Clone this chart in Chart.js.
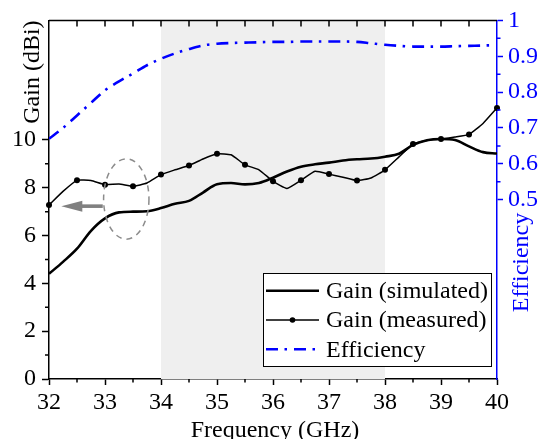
<!DOCTYPE html>
<html>
<head>
<meta charset="utf-8">
<script src="https://cdn.jsdelivr.net/npm/chart.js@4.4.1/dist/chart.umd.min.js"></script>
<style>
  html, body { margin: 0; padding: 0; background: #fff; }
  #wrap { width: 545px; height: 439px; }
</style>
</head>
<body>
<div id="wrap"><canvas id="gainChart"></canvas></div>
<script>
// frequency points (GHz), 0.25 GHz step
const freqs = [32, 32.25, 32.5, 32.75, 33, 33.25, 33.5, 33.75, 34, 34.25, 34.5, 34.75,
    35, 35.25, 35.5, 35.75, 36, 36.25, 36.5, 36.75, 37, 37.25, 37.5, 37.75,
    38, 38.25, 38.5, 38.75, 39, 39.25, 39.5, 39.75, 40];

const gainSimulated = [4.4, 4.9, 5.45, 6.2, 6.72, 6.97, 7.0, 7.02, 7.15, 7.33, 7.45, 7.8,
    8.15, 8.2, 8.14, 8.2, 8.42, 8.68, 8.88, 8.98, 9.05, 9.14, 9.19, 9.22,
    9.3, 9.42, 9.79, 9.99, 10.04, 10.0, 9.73, 9.49, 9.43];

const gainMeasured = [7.28, 7.85, 8.31, 8.3, 8.13, 8.16, 8.06, 8.2, 8.55, 8.75, 8.93, 9.2,
    9.42, 9.38, 8.96, 8.75, 8.27, 7.97, 8.31, 8.69, 8.57, 8.44, 8.3, 8.41,
    8.75, 9.29, 9.83, 9.98, 10.04, 10.12, 10.23, 10.69, 11.34];

const efficiency = [0.67, 0.70, 0.735, 0.77, 0.805, 0.83, 0.852, 0.875, 0.893, 0.908, 0.92, 0.93,
    0.935, 0.937, 0.938, 0.939, 0.94, 0.94, 0.941, 0.941, 0.941, 0.941, 0.94, 0.936,
    0.932, 0.929, 0.927, 0.927, 0.927, 0.928, 0.929, 0.93, 0.931];

const freqTicks = [32, 33, 34, 35, 36, 37, 38, 39, 40];
const gainTicks = [0, 2, 4, 6, 8, 10];
const effTicks = [0.5, 0.6, 0.7, 0.8, 0.9, 1];

const band = [34, 38];           // shaded band (GHz)
const circleMark = { x: 33.38, y: 7.53, rx: 0.405, ry: 1.68 };  // dashed ellipse, data units
const arrowMark = { from: 32.96, to: 32.22, y: 7.23 };         // arrow pointing to left axis

const FONT = "Liberation Serif";
const BLUE = "#0000ff";

const toXY = (vals) => vals.map((v, i) => ({ x: freqs[i], y: v }));

const decor = {
    id: "decor",
    beforeDatasetsDraw(chart) {
        const { ctx, chartArea: a, scales: { x } } = chart;
        ctx.save();
        ctx.fillStyle = "#efefef";
        const x0 = x.getPixelForValue(band[0]);
        const x1 = x.getPixelForValue(band[1]);
        ctx.fillRect(x0, a.top + 1, x1 - x0, a.bottom - a.top - 1);
        ctx.restore();
    },
    afterDatasetsDraw(chart) {
        const { ctx, chartArea: a, scales: { x, y, y1 } } = chart;
        ctx.save();

        // dashed ellipse
        const cx = x.getPixelForValue(circleMark.x);
        const cy = y.getPixelForValue(circleMark.y);
        const rx = x.getPixelForValue(circleMark.x + circleMark.rx) - cx;
        const ry = cy - y.getPixelForValue(circleMark.y + circleMark.ry);
        ctx.strokeStyle = "#8c8c8c";
        ctx.lineWidth = 1.5;
        ctx.setLineDash([6, 5]);
        ctx.beginPath();
        ctx.ellipse(cx, cy, rx, ry, 0, 0, Math.PI * 2);
        ctx.stroke();
        ctx.setLineDash([]);

        // arrow
        const ay = y.getPixelForValue(arrowMark.y);
        const ax0 = x.getPixelForValue(arrowMark.from);
        const ax1 = x.getPixelForValue(arrowMark.to);
        ctx.fillStyle = "#808080";
        ctx.fillRect(ax1 + 18, ay - 1.8, ax0 - ax1 - 18, 3.6);
        ctx.beginPath();
        ctx.moveTo(ax1, ay);
        ctx.lineTo(ax1 + 21, ay - 5.5);
        ctx.lineTo(ax1 + 21, ay + 5.5);
        ctx.closePath();
        ctx.fill();

        // top frame with inward ticks
        ctx.strokeStyle = "#000";
        ctx.lineWidth = 1.5;
        ctx.beginPath();
        ctx.moveTo(a.left, a.top);
        ctx.lineTo(a.right, a.top);
        for (let f = 32.5; f < 40; f += 0.5) {
            const px = x.getPixelForValue(f);
            ctx.moveTo(px, a.top);
            ctx.lineTo(px, a.top + 6);
        }
        // bottom minor ticks
        for (let f = 32.5; f < 40; f += 1) {
            const px = x.getPixelForValue(f);
            ctx.moveTo(px, a.bottom);
            ctx.lineTo(px, a.bottom + 3.5);
        }
        // left minor ticks
        for (let g = 1; g < 10; g += 2) {
            const py = y.getPixelForValue(g);
            ctx.moveTo(a.left, py);
            ctx.lineTo(a.left - 4, py);
        }
        ctx.stroke();

        // right minor ticks
        ctx.strokeStyle = BLUE;
        ctx.beginPath();
        for (let e = 0.55; e < 1; e += 0.1) {
            const py = y1.getPixelForValue(e);
            ctx.moveTo(a.right, py);
            ctx.lineTo(a.right + 3.5, py);
        }
        ctx.stroke();

        // axis titles
        ctx.font = "24px '" + FONT + "'";
        ctx.textBaseline = "alphabetic";
        ctx.fillStyle = "#000";
        ctx.save();
        ctx.translate(38.5, a.top);
        ctx.rotate(-Math.PI / 2);
        ctx.textAlign = "right";
        ctx.fillText("Gain (dBi)", 0, 0);
        ctx.restore();

        ctx.save();
        ctx.fillStyle = BLUE;
        ctx.translate(528, 262.5);
        ctx.rotate(-Math.PI / 2);
        ctx.textAlign = "center";
        ctx.fillText("Efficiency", 0, 0);
        ctx.restore();

        ctx.textAlign = "center";
        ctx.fillText("Frequency (GHz)", (a.left + a.right) / 2 + 2, 436.5);

        // legend box
        const lx = 263, ly = 273, lw = 228, lh = 93;
        ctx.fillStyle = "#fff";
        ctx.fillRect(lx, ly, lw, lh);
        ctx.strokeStyle = "#000";
        ctx.lineWidth = 1;
        ctx.strokeRect(lx + 0.5, ly + 0.5, lw, lh);
        const rows = [290.7, 320, 349.3];
        chart.data.datasets.forEach((ds, i) => {
            const ry = rows[i];
            ctx.strokeStyle = ds.borderColor;
            ctx.lineWidth = ds.borderWidth;
            ctx.setLineDash(ds.borderDash || []);
            ctx.beginPath();
            ctx.moveTo(266, ry);
            ctx.lineTo(319, ry);
            ctx.stroke();
            ctx.setLineDash([]);
            if (ds.legendDot) {
                ctx.fillStyle = "#000";
                ctx.beginPath();
                ctx.arc(292.5, ry, 2.8, 0, Math.PI * 2);
                ctx.fill();
            }
            ctx.fillStyle = "#000";
            ctx.textAlign = "left";
            ctx.textBaseline = "middle";
            ctx.fillText(ds.label, 326, ry + 1);
        });

        ctx.restore();
    },
};

const ctx = document.getElementById("gainChart").getContext("2d");
new Chart(ctx, {
    type: "line",
    data: {
        datasets: [
            {
                label: "Gain (simulated)",
                data: toXY(gainSimulated),
                yAxisID: "y",
                borderColor: "#000",
                borderWidth: 2.6,
                pointRadius: 0,
                cubicInterpolationMode: "monotone",
                fill: false,
            },
            {
                label: "Gain (measured)",
                data: toXY(gainMeasured),
                yAxisID: "y",
                borderColor: "#000",
                borderWidth: 1.5,
                pointRadius: (c) => (c.dataIndex % 2 === 0 ? 3 : 0),
                pointBackgroundColor: "#000",
                pointBorderWidth: 0,
                tension: 0.15,
                clip: 5,
                legendDot: true,
                fill: false,
            },
            {
                label: "Efficiency",
                data: toXY(efficiency),
                yAxisID: "y1",
                borderColor: BLUE,
                borderWidth: 2.6,
                borderDash: [12, 6.5, 2.5, 7],
                pointRadius: 0,
                cubicInterpolationMode: "monotone",
                fill: false,
            },
        ],
    },
    options: {
        responsive: true,
        maintainAspectRatio: false,
        animation: false,
        devicePixelRatio: 1,
        layout: { padding: { top: 18, left: 0, right: 0, bottom: 0 } },
        plugins: {
            legend: { display: false },
            tooltip: { enabled: false },
        },
        scales: {
            x: {
                type: "linear",
                position: "bottom",
                min: 32,
                max: 40,
                afterBuildTicks: (s) => { s.ticks = freqTicks.map((v) => ({ value: v })); },
                afterFit: (s) => { s.height = 60; },
                ticks: {
                    color: "#000",
                    padding: 3,
                    maxRotation: 0,
                    font: { family: FONT, size: 24 },
                },
                grid: { drawOnChartArea: false, tickLength: 6, tickWidth: 1.5, tickColor: "#000" },
                border: { color: "#000", width: 1.5 },
            },
            y: {
                type: "linear",
                position: "left",
                min: 0,
                max: 15,
                afterBuildTicks: (s) => { s.ticks = gainTicks.map((v) => ({ value: v })); },
                afterFit: (s) => { s.width = 49; },
                ticks: {
                    color: "#000",
                    padding: 6,
                    font: { family: FONT, size: 24 },
                },
                grid: { drawOnChartArea: false, tickLength: 7, tickWidth: 1.5, tickColor: "#000" },
                border: { color: "#000", width: 1.5 },
            },
            y1: {
                type: "linear",
                position: "right",
                min: 0,
                max: 1,
                afterBuildTicks: (s) => { s.ticks = effTicks.map((v) => ({ value: v })); },
                afterFit: (s) => { s.width = 48; },
                ticks: {
                    color: BLUE,
                    padding: 5,
                    font: { family: FONT, size: 24 },
                    callback: (v) => (v === 1 ? "1" : v.toFixed(1)),
                },
                grid: { drawOnChartArea: false, tickLength: 6, tickWidth: 1.5, tickColor: BLUE },
                border: { color: BLUE, width: 1.5 },
            },
        },
    },
    plugins: [decor],
});
</script>
</body>
</html>
